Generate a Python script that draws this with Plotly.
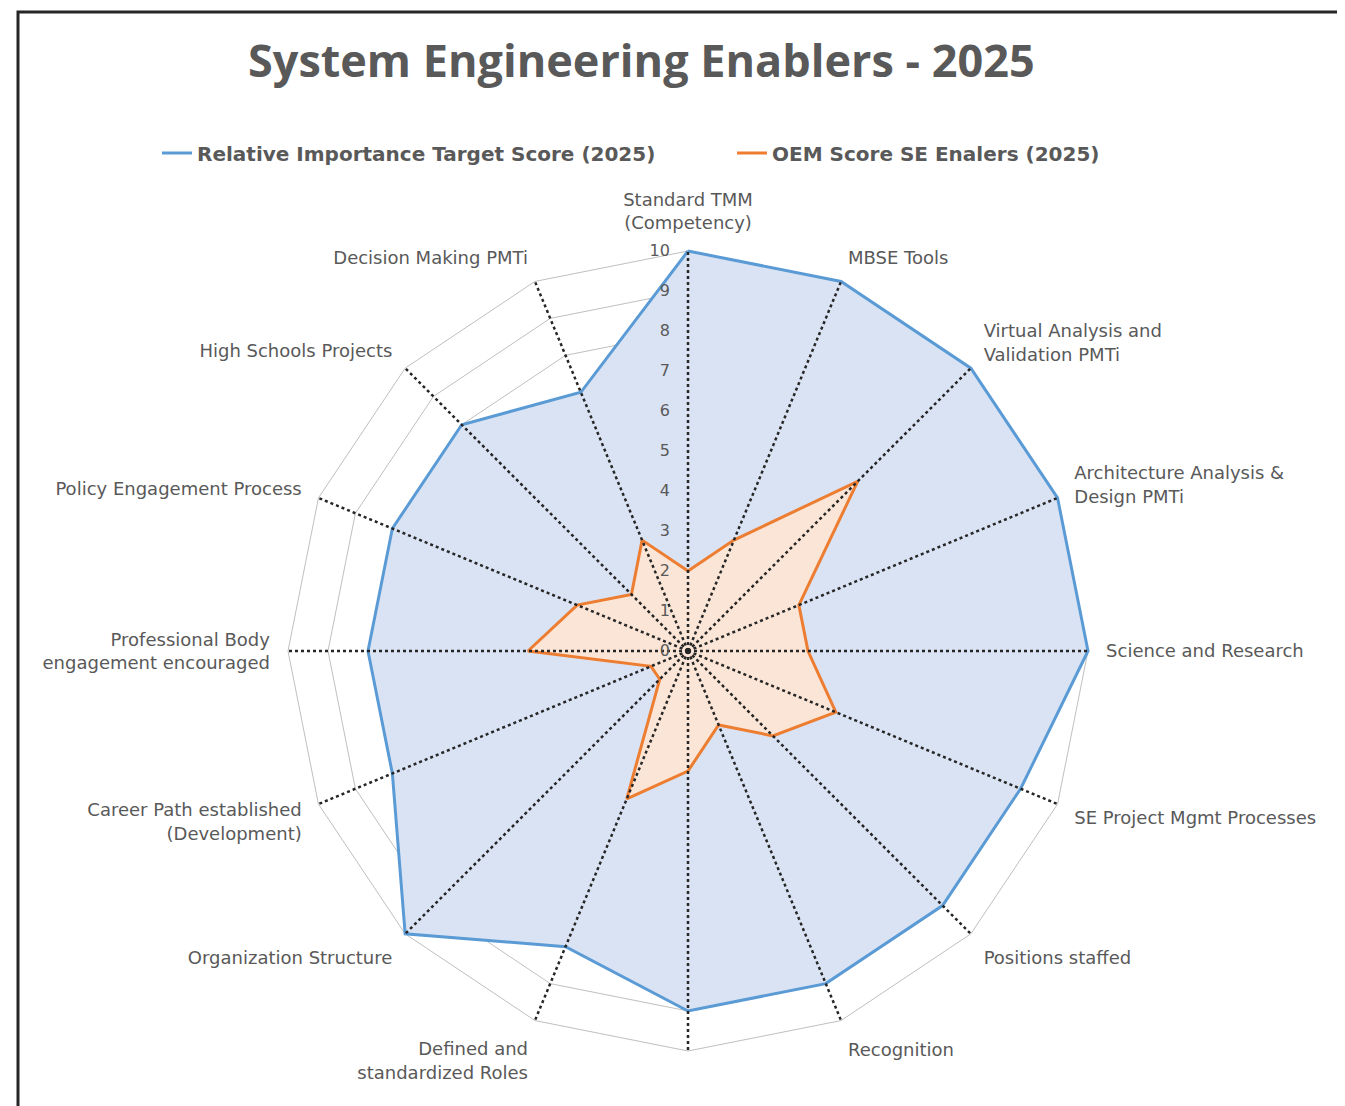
import plotly.graph_objects as go

# ---------------------------------------------------------------------------
# Datos
# ---------------------------------------------------------------------------
categories = [
    "Standard TMM<br>(Competency)",
    "MBSE Tools",
    "Virtual Analysis and<br>Validation PMTi",
    "Architecture Analysis &<br>Design PMTi",
    "Science and Research",
    "SE Project Mgmt Processes",
    "Positions staffed",
    "Recognition",
    " ",
    "Defined and<br>standardized Roles",
    "Organization Structure",
    "Career Path established<br>(Development)",
    "Professional Body<br>engagement encouraged",
    "Policy Engagement Process",
    "High Schools Projects",
    "Decision Making PMTi",
]
target_2025 = [10, 10, 10, 10, 10, 9, 9, 9, 9, 8, 10, 8, 8, 8, 8, 7]
oem_2025 = [2, 3, 6, 3, 3, 4, 3, 2, 3, 4, 1, 1, 4, 3, 2, 3]
radial_ticks = [0, 1, 2, 3, 4, 5, 6, 7, 8, 9, 10]

series_names = ["Relative Importance Target Score (2025)", "OEM Score SE Enalers (2025)"]

# ---------------------------------------------------------------------------
# Paleta
# ---------------------------------------------------------------------------
AZUL = "#5B9BD5"
AZUL_FILL = "#DAE3F3"
NARANJA = "#ED7D31"
NARANJA_FILL = "#FBE5D6"
GRIS_TEXTO = "#595959"
GRIS_GRID = "#BFBFBF"

W, H = 1345, 1106
OFF = 8  # margen del body en la página
RMAX = max(radial_ticks)
R_RANGE = RMAX * 1.02          # un poco de aire para que la línea del borde no se recorte
CX, CY, R_PX = 688, 651, 400   # centro y radio (en px de la página) del valor RMAX
R_DOM = R_PX * R_RANGE / RMAX


def xp(px):
    return (px - OFF) / W


def yp(px):
    return 1 - (px - OFF) / H


def closed(values):
    return values + values[:1]


fig = go.Figure()

# series con relleno
for vals, line_c, fill_c in [(target_2025, AZUL, AZUL_FILL), (oem_2025, NARANJA, NARANJA_FILL)]:
    fig.add_trace(go.Scatterpolar(
        r=closed(vals), theta=closed(categories),
        mode="lines", fill="toself", fillcolor=fill_c,
        line=dict(color=line_c, width=3),
        showlegend=False, hoverinfo="r+theta",
    ))

# radios punteados por encima del relleno
spoke_r, spoke_t = [], []
for c in categories:
    spoke_r += [0, RMAX, None]
    spoke_t += [c, c, None]
fig.add_trace(go.Scatterpolar(
    r=spoke_r, theta=spoke_t, mode="lines",
    line=dict(color="#262626", width=2.5, dash="3px,3px"),
    showlegend=False, hoverinfo="skip",
))

# entradas de leyenda (solo línea)
for name, c in zip(series_names, [AZUL, NARANJA]):
    fig.add_trace(go.Scatterpolar(
        r=[None], theta=[categories[0]], mode="lines", name=name,
        line=dict(color=c, width=3),
    ))

fig.update_layout(
    width=W, height=H,
    paper_bgcolor="white", plot_bgcolor="white",
    margin=dict(l=0, r=0, t=0, b=0),
    font=dict(family="DejaVu Sans", color=GRIS_TEXTO),
    polar=dict(
        domain=dict(x=[xp(CX - R_DOM), xp(CX + R_DOM)], y=[yp(CY + R_DOM), yp(CY - R_DOM)]),
        bgcolor="white",
        gridshape="linear",
        radialaxis=dict(
            range=[0, R_RANGE], tickvals=radial_ticks, angle=90, tickangle=90,
            side="counterclockwise",
            showline=False, ticks="outside", ticklen=12, tickcolor="rgba(0,0,0,0)",
            gridcolor=GRIS_GRID, gridwidth=1,
            tickfont=dict(size=16, color=GRIS_TEXTO),
        ),
        angularaxis=dict(
            direction="clockwise", rotation=90, showgrid=False,
            showline=False,
            ticks="outside", ticklen=6, tickcolor="rgba(0,0,0,0)",
            tickfont=dict(size=18, color=GRIS_TEXTO),
        ),
    ),
    legend=dict(
        orientation="h", x=xp(157), y=yp(153), xanchor="left", yanchor="middle",
        entrywidth=530, entrywidthmode="pixels",
        font=dict(size=20, color=GRIS_TEXTO, weight="bold"), bgcolor="rgba(0,0,0,0)",
    ),
    annotations=[dict(
        text="<b>System Engineering Enablers - 2025</b>", xref="paper", yref="paper",
        x=xp(641), y=yp(60), xanchor="center", yanchor="middle", showarrow=False,
        font=dict(family="Open Sans", size=45, color=GRIS_TEXTO),
    )],
    shapes=[dict(
        type="rect", xref="paper", yref="paper",
        x0=xp(18), x1=1.05, y0=-0.05, y1=yp(12),
        line=dict(color="#262626", width=3),
    )],
)

fig.write_html("out.html")
